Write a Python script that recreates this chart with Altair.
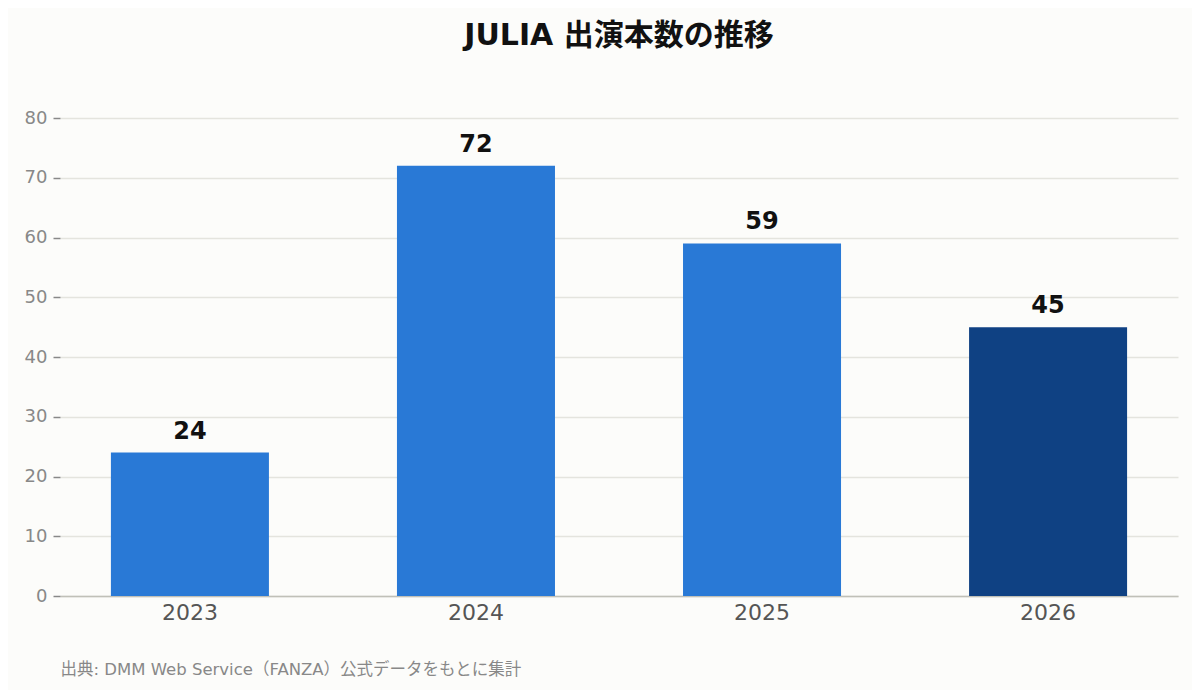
import altair as alt
import pandas as pd

years = ["2023", "2024", "2025", "2026"]
counts = [24, 72, 59, 45]
colors = ["#2979d6", "#2979d6", "#2979d6", "#0f4183"]

df = pd.DataFrame({"year": years, "count": counts, "color": colors})

FONT = "DejaVu Sans, Noto Sans CJK JP"

base = alt.Chart(df).encode(
    x=alt.X(
        "year:N",
        sort=years,
        scale=alt.Scale(paddingInner=0.4476, paddingOuter=0.178),
        axis=alt.Axis(
            title="出典: DMM Web Service（FANZA）公式データをもとに集計",
            titleFont=FONT,
            titleFontSize=16.5,
            titleFontWeight="normal",
            titleColor="#888888",
            titleAnchor="start",
            titleAlign="left",
            titleBaseline="top",
            titleX=0,
            titleY=65,
            labelFont=FONT,
            labelFontSize=22,
            labelColor="#555555",
            labelAngle=0,
            labelPadding=6,
            ticks=False,
            domain=True,
            domainColor="#c0c0b8",
            domainWidth=1.5,
            grid=False,
        ),
    ),
    y=alt.Y(
        "count:Q",
        scale=alt.Scale(domain=[0, 80]),
        axis=alt.Axis(
            title=None,
            values=[0, 10, 20, 30, 40, 50, 60, 70, 80],
            labelFont=FONT,
            labelFontSize=18,
            labelColor="#888888",
            labelPadding=6,
            tickSize=7,
            tickColor="#888888",
            tickWidth=1.5,
            domain=False,
            grid=True,
            gridColor="#e4e4de",
            gridWidth=1.5,
        ),
    ),
)

bars = base.mark_bar().encode(color=alt.Color("color:N", scale=None))
labels = base.mark_text(
    baseline="bottom", dy=-9, font=FONT, fontSize=24, fontWeight="bold", color="#111111"
).encode(text="count:Q")

chart = (
    alt.layer(bars, labels)
    .properties(
        width=1118,
        height=478,
        background="#fcfcfa",
        autosize=alt.AutoSizeParams(type="none"),
        padding={"left": 52, "top": 110, "right": 14, "bottom": 94},
        title=alt.TitleParams(
            "JULIA 出演本数の推移",
            font=FONT,
            fontSize=30,
            fontWeight="bold",
            color="#111111",
            anchor="middle",
            offset=58,
        ),
    )
    .configure_view(stroke=None)
)

chart.save("out.html", embed_options={"renderer": "svg", "actions": False})
